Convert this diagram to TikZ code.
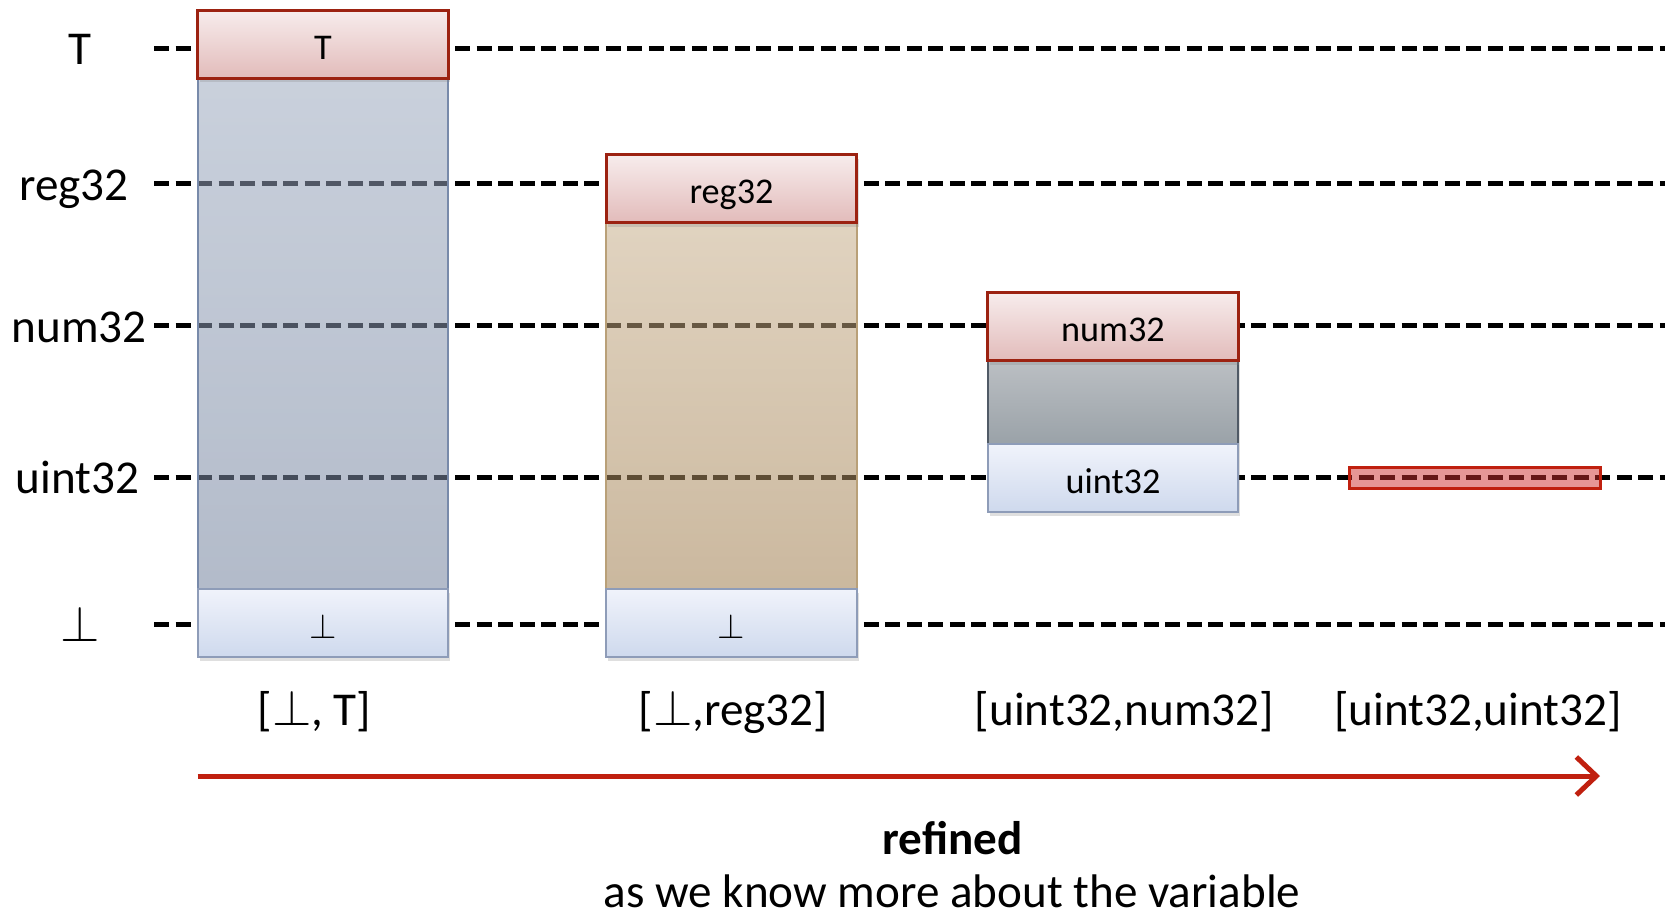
\documentclass[tikz,border=0pt]{standalone}
\usepackage{fontspec}
\setmainfont{Carlito}
\usetikzlibrary{positioning}
\usetikzlibrary{shadows}
\usetikzlibrary{arrows.meta}

\definecolor{capline}{RGB}{156,34,17}
\definecolor{captop}{RGB}{247,236,236}
\definecolor{capbot}{RGB}{226,187,186}
\definecolor{lowline}{RGB}{142,156,184}
\definecolor{lowtop}{RGB}{240,243,251}
\definecolor{lowbot}{RGB}{206,217,237}
\definecolor{slateline}{RGB}{120,138,170}
\definecolor{slatetop}{RGB}{157,170,191}
\definecolor{slatebot}{RGB}{116,131,158}
\definecolor{tanline}{RGB}{185,160,120}
\definecolor{tantop}{RGB}{199,175,140}
\definecolor{tanbot}{RGB}{160,126,79}
\definecolor{greyline}{RGB}{80,90,102}
\definecolor{greytop}{RGB}{187,191,195}
\definecolor{greybot}{RGB}{154,162,168}
\definecolor{barred}{RGB}{205,45,45}
\definecolor{arrowred}{RGB}{192,32,15}

\tikzstyle{capbox} = [rectangle,
minimum width=2.5cm,
minimum height=0.68cm,
inner sep=0pt,
outer sep=0pt,
text height=0.3cm,
text depth=0pt,
font=\fontsize{10.3}{12}\selectfont,
line width=0.03cm,
draw=capline,
top color=captop,
bottom color=capbot,
drop shadow={opacity=0.25, shadow xshift=0.02cm, shadow yshift=-0.04cm}]
\tikzstyle{lowbox} = [capbox,
line width=0.02cm,
draw=lowline,
top color=lowtop,
bottom color=lowbot]
\tikzstyle{rangebody} = [rectangle,
minimum width=2.5cm,
inner sep=0pt,
outer sep=0pt,
line width=0.02cm,
fill opacity=0.55]
\tikzstyle{bar} = [rectangle,
minimum width=2.5cm,
minimum height=0.215cm,
inner sep=0pt,
outer sep=0pt,
line width=0.03cm,
draw=arrowred,
fill=barred,
fill opacity=0.5]
\tikzstyle{lbl} = [anchor=base,
inner sep=0pt,
font=\fontsize{13.4}{16}\selectfont]
\tikzstyle{level} = [line width=0.05cm,
dash pattern=on 0.15cm off 0.065cm]
\tikzstyle{arrow} = [line width=0.05cm,
draw=arrowred,
-{Straight Barb[length=0.2cm, width=0.38cm]}]

\begin{document}
\begin{tikzpicture}[x=0.01cm, y=-0.01cm]
\useasboundingbox (0,0) rectangle (1665,917);

% levels
\node (lab_top) [lbl] at (80,64) {T};
\node (lab_reg) [lbl] at (74,200) {reg32};
\node (lab_num) [lbl] at (79,342) {num32};
\node (lab_uint) [lbl] at (77.5,493) {uint32};
\node (lab_bot) [lbl] at (80,641) {$\bot$};

\coordinate (top_l) at (154,48);
\coordinate (top_r) at (1665,48);
\coordinate (reg_l) at (154,183);
\coordinate (reg_r) at (1665,183);
\coordinate (num_l) at (154,325);
\coordinate (num_r) at (1665,325);
\coordinate (uint_l) at (154,477);
\coordinate (uint_r) at (1665,477);
\coordinate (bot_l) at (154,624);
\coordinate (bot_r) at (1665,624);

\draw [level] (top_l) -- (top_r);
\draw [level] (reg_l) -- (reg_r);
\draw [level] (num_l) -- (num_r);
\draw [level] (uint_l) -- (uint_r);
\draw [level] (bot_l) -- (bot_r);

% [bot, top]
\node (body_a) [rangebody, minimum height=5.104cm, draw=slateline,
  top color=slatetop, bottom color=slatebot] at (323,333.8) {};
\node (top_a) [capbox, above=0pt of body_a] {T};
\node (bot_a) [lowbox, below=0pt of body_a] {$\bot$};

% [bot, reg32]
\node (body_b) [rangebody, minimum height=3.66cm, draw=tanline,
  top color=tantop, bottom color=tanbot] at (731.5,406) {};
\node (top_b) [capbox, above=0pt of body_b] {reg32};
\node (bot_b) [lowbox, below=0pt of body_b] {$\bot$};

% [uint32, num32]
\node (body_c) [rangebody, fill opacity=1, minimum height=0.83cm, draw=greyline,
  top color=greytop, bottom color=greybot,
  drop shadow={opacity=0.25, shadow xshift=0.02cm, shadow yshift=-0.04cm}] at (1113,402.5) {};
\node (top_c) [capbox, above=0pt of body_c] {num32};
\node (bot_c) [lowbox, below=0pt of body_c] {uint32};

% [uint32, uint32]
\node (bar_d) [bar] at (1475,477.8) {};

\node (rng_a) [lbl] at (314.5,725) {[$\bot$, T]};
\node (rng_b) [lbl] at (733.5,725) {[$\bot$,reg32]};
\node (rng_c) [lbl] at (1124.5,725) {[uint32,num32]};
\node (rng_d) [lbl] at (1478,725) {[uint32,uint32]};

\coordinate (arr_from) at (197.5,776);
\coordinate (arr_to) at (1600,776);
\draw [arrow] (arr_from) -- (arr_to);

\node (refined) [lbl, font=\fontsize{13.4}{16}\selectfont\bfseries] at (952.5,854) {refined};
\node (refined_why) [lbl] at (952,907.5) {as we know more about the variable};

\end{tikzpicture}
\end{document}
